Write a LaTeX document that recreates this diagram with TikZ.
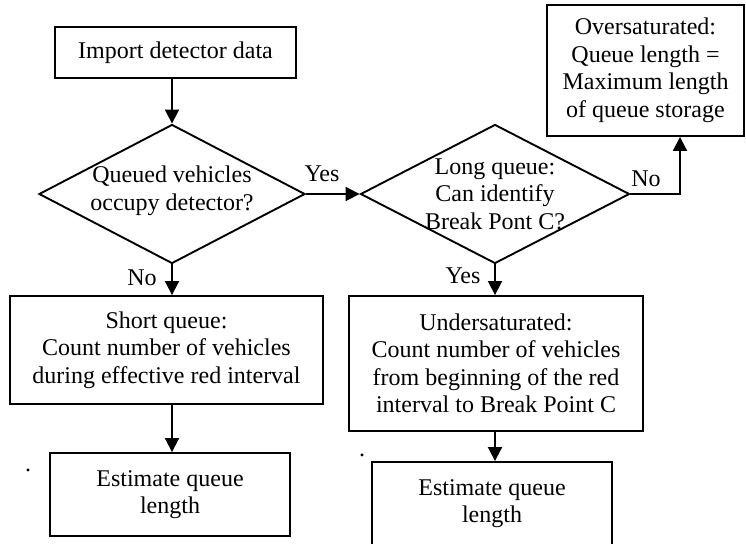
\documentclass[tikz,border=0pt]{standalone}
\usepackage{fontspec}
\setmainfont{Liberation Serif}
\usetikzlibrary{shapes.geometric,arrows.meta}
\begin{document}
\begin{tikzpicture}[x=1pt,y=-1pt,
  every node/.style={font=\fontsize{24}{27.5}\selectfont},
  box/.style={draw,rectangle,line width=1.9pt,inner sep=0pt,align=center},
  dia/.style={draw,diamond,line width=1.9pt,inner sep=0pt},
  txt/.style={align=center,inner sep=0pt},
  arr/.style={line width=1.9pt,-{Triangle[length=14pt,width=14pt]}}]
\useasboundingbox (0,0) rectangle (746,543);
\node[box,minimum width=241,minimum height=51] (imp) at (175.5,52.5) {Import detector data};
\node[box,minimum width=197,minimum height=131] (over) at (645.5,70.5) {Oversaturated:\\Queue length =\\Maximum length\\of queue storage};
\node[dia,minimum width=266,minimum height=139] (d1) at (172,194) {};
\node[txt] (d1t) at (172,191) {Queued vehicles\\occupy detector?};
\node[dia,minimum width=269,minimum height=139] (d2) at (495,194) {};
\node[txt] (d2t) at (495,194) {Long queue:\\Can identify\\Break Pont C?};
\node[box,minimum width=313,minimum height=108] (short) at (166.5,350) {Short queue:\\Count number of vehicles\\during effective red interval};
\node[box,minimum width=240,minimum height=83] (est1) at (170,494.5) {Estimate queue\\length};
\node[box,minimum width=294,minimum height=135] (under) at (496,363.5) {Undersaturated:\\Count number of vehicles\\from beginning of the red\\interval to Break Point C};
\node[box,minimum width=240,minimum height=83] (est2) at (492,503.5) {Estimate queue\\length};
\node[txt,anchor=base] (dot1) at (28,471) {.};
\node[txt,anchor=base] (dot2) at (362,456) {.};
\node[txt] (yes1) at (322,174) {Yes};
\node[txt] (no1) at (142,278) {No};
\node[txt] (no2) at (646,179) {No};
\node[txt] (yes2) at (463,276) {Yes};
\draw[arr] (imp.south -| d1.north) -- (d1.north);
\draw[arr] (d1.east) -- (d2.west);
\draw[arr] (d2.east) -| ([xshift=34.5pt]over.south);
\draw[arr] (d1.south) -- (short.north -| d1.south);
\draw[arr] (d2.south) -- (under.north -| d2.south);
\draw[arr] (short.south -| d1.south) -- (est1.north -| d1.south);
\draw[arr] (under.south -| d2.south) -- (est2.north -| d2.south);
\end{tikzpicture}
\end{document}
